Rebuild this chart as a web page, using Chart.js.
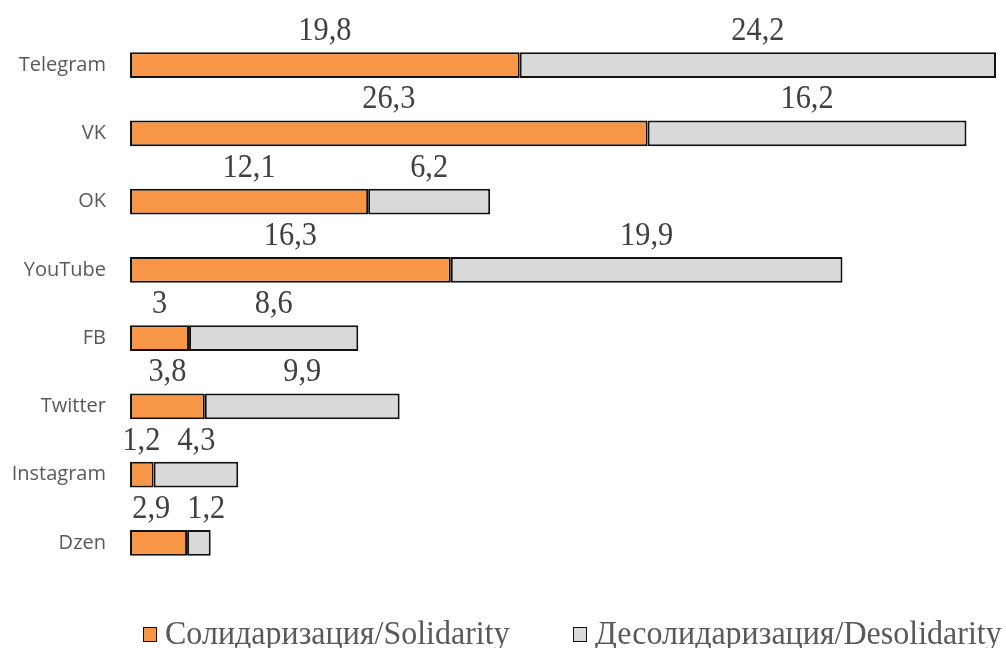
<!DOCTYPE html>
<html>
<head>
<meta charset="utf-8">
<script src="https://cdn.jsdelivr.net/npm/chart.js@4"></script>
<style>
  body { margin: 0; background: #fff; }
  .wrap { position: relative; width: 1006px; height: 648px; }
  #legend {
    position: absolute; top: 613px; left: 0; width: 1006px; height: 36px;
    font-family: "Liberation Serif", "Times New Roman", serif; font-size: 33px; color: #595959;
  }
  .item { position: absolute; top: 0; white-space: nowrap; line-height: 40px; }
  .box { display: inline-block; width: 12px; height: 13px; border: 1.5px solid #111; margin-right: 8px; vertical-align: 2px; }
  .txt { display: inline-block; transform: scaleX(0.97); transform-origin: left center; }
</style>
</head>
<body>
<div class="wrap">
  <canvas id="chart" width="1006" height="648"></canvas>
  <div id="legend"></div>
</div>
<script>
const platforms = ["Telegram", "VK", "OK", "YouTube", "FB", "Twitter", "Instagram", "Dzen"];
const solidarity = [19.8, 26.3, 12.1, 16.3, 3, 3.8, 1.2, 2.9];
const desolidarity = [24.2, 16.2, 6.2, 19.9, 8.6, 9.9, 4.3, 1.2];
const seriesNames = ["Солидаризация/Solidarity", "Десолидаризация/Desolidarity"];
const colors = ["#F79646", "#D9D9D9"];

// value labels above each segment, pushed apart when they crowd
const valueLabels = {
  id: "valueLabels",
  afterDatasetsDraw(chart) {
    const c = chart.ctx;
    const sx = 0.92;
    c.save();
    c.font = "33px 'Liberation Serif', 'Times New Roman', serif";
    c.fillStyle = "#404040";
    c.textAlign = "center";
    c.textBaseline = "alphabetic";
    c.scale(sx, 1);
    const m0 = chart.getDatasetMeta(0).data;
    const m1 = chart.getDatasetMeta(1).data;
    m0.forEach((bar, i) => {
      const b2 = m1[i];
      let x1 = (bar.base + bar.x) / 2;
      let x2 = (b2.base + b2.x) / 2;
      const minGap = 55;
      if (x2 - x1 < minGap) {
        const mid = (x1 + x2) / 2;
        x1 = mid - minGap / 2;
        x2 = mid + minGap / 2;
      }
      const y = bar.y - bar.height / 2 - 12;
      c.fillText(String(solidarity[i]).replace(".", ","), x1 / sx, y);
      c.fillText(String(desolidarity[i]).replace(".", ","), x2 / sx, y);
    });
    c.restore();
  }
};

const ctx = document.getElementById("chart");

new Chart(ctx, {
  type: "bar",
  data: {
    labels: platforms,
    datasets: [
      {
        label: seriesNames[0],
        data: solidarity,
        backgroundColor: colors[0],
        borderColor: "#111",
        borderWidth: 2,
        borderSkipped: false,
      },
      {
        label: seriesNames[1],
        data: desolidarity,
        backgroundColor: colors[1],
        borderColor: "#111",
        borderWidth: 2,
        borderSkipped: false,
      },
    ],
  },
  options: {
    indexAxis: "y",
    responsive: false,
    animation: false,
    categoryPercentage: 1,
    barPercentage: 0.38,
    layout: {
      padding: { top: 31, right: 10, bottom: 71, left: 0 },
    },
    scales: {
      x: {
        stacked: true,
        display: false,
        min: 0,
        max: 44,
      },
      y: {
        stacked: true,
        grid: { display: false, drawTicks: false },
        border: { display: false },
        ticks: {
          color: "#595959",
          padding: 24,
          font: { family: "'Open Sans'", size: 20 },
        },
        afterFit(scale) {
          scale.width = 130;
          scale.paddingTop = 0;
          scale.paddingBottom = 0;
        },
      },
    },
    plugins: {
      legend: { display: false },
      tooltip: { enabled: false },
    },
  },
  plugins: [valueLabels],
});

//legend
const legend = document.getElementById("legend");
const lefts = [143, 573];
seriesNames.forEach((name, i) => {
  const item = document.createElement("div");
  item.className = "item";
  item.style.left = lefts[i] + "px";
  item.innerHTML = '<span class="box" style="background:' + colors[i] + '"></span><span class="txt">' + name + "</span>";
  legend.appendChild(item);
});
</script>
</body>
</html>
